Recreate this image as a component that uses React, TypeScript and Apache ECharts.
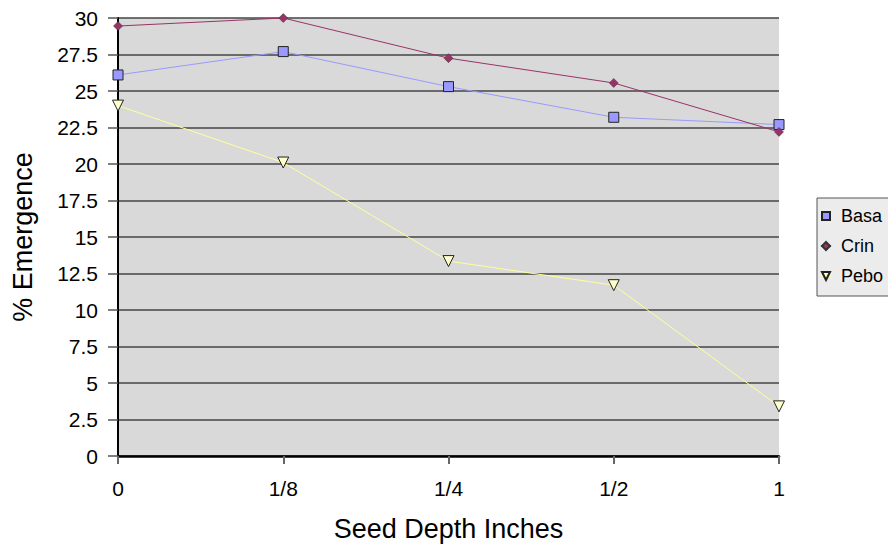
import React, { useEffect, useRef } from "react";
import * as echarts from "echarts";

const categories = ["0", "1/8", "1/4", "1/2", "1"];
const basa = [26.1, 27.7, 25.3, 23.2, 22.7];
const crin = [29.45, 30.0, 27.25, 25.55, 22.2];
const pebo = [24.0, 20.1, 13.35, 11.7, 3.4];
const yTicks = [0, 2.5, 5, 7.5, 10, 12.5, 15, 17.5, 20, 22.5, 25, 27.5, 30];

const FONT = "Liberation Sans, Arial, sans-serif";

export default function App() {
  const ref = useRef<HTMLDivElement>(null);
  useEffect(() => {
    if (!ref.current) return;
    const chart = echarts.init(ref.current, undefined, { renderer: "svg" });
    chart.setOption({
      animation: false,
      backgroundColor: "#ffffff",
      textStyle: { fontFamily: FONT },
      grid: {
        left: 118,
        right: 109,
        top: 18,
        bottom: 92,
        show: true,
        backgroundColor: "#D9D9D9",
        borderWidth: 0,
      },
      legend: {
        orient: "vertical",
        left: 817,
        top: 198,
        itemWidth: 10,
        itemHeight: 10,
        itemGap: 10,
        padding: [8, 20, 10, 3],
        backgroundColor: "#ECECEC",
        borderColor: "#555555",
        borderWidth: 1,
        borderRadius: 0,
        textStyle: { fontFamily: FONT, fontSize: 18, color: "#000", lineHeight: 20, padding: [0, 0, 0, 5] },
        data: ["Basa", "Crin", "Pebo"],
      },
      xAxis: {
        type: "category",
        data: categories,
        boundaryGap: false,
        name: "Seed Depth Inches",
        nameLocation: "middle",
        nameGap: 59,
        nameTextStyle: { fontFamily: FONT, fontSize: 27, color: "#000" },
        axisLine: { lineStyle: { color: "#000", width: 2.5 } },
        axisTick: { show: true, length: 8, lineStyle: { color: "#666", width: 2 } },
        axisLabel: { fontFamily: FONT, fontSize: 21, color: "#000", margin: 22 },
        splitLine: { show: false },
      },
      yAxis: {
        type: "value",
        min: 0,
        max: 30,
        interval: 2.5,
        name: "% Emergence",
        nameLocation: "middle",
        nameGap: 82,
        nameTextStyle: { fontFamily: FONT, fontSize: 27, color: "#000" },
        axisLine: { show: true, lineStyle: { color: "#000", width: 2 } },
        axisTick: { show: true, length: 10, lineStyle: { color: "#555", width: 1.5 } },
        axisLabel: {
          fontFamily: FONT,
          fontSize: 21,
          color: "#000",
          margin: 20,
          formatter: (v: number) => (yTicks.includes(v) ? String(v) : ""),
        },
        splitLine: { show: true, lineStyle: { color: "#444", width: 1.5 } },
      },
      series: [
        {
          name: "Basa",
          type: "line",
          data: basa,
          symbol: "rect",
          symbolSize: 10,
          lineStyle: { color: "#9999FF", width: 1 },
          itemStyle: { color: "#9999FF", borderColor: "#222", borderWidth: 1 },
          z: 3,
        },
        {
          name: "Crin",
          type: "line",
          data: crin,
          symbol: "diamond",
          symbolSize: 9,
          lineStyle: { color: "#993366", width: 1 },
          itemStyle: { color: "#993366", borderColor: "#333", borderWidth: 0.5 },
          z: 4,
        },
        {
          name: "Pebo",
          type: "line",
          data: pebo,
          symbol: "triangle",
          symbolRotate: 180,
          symbolSize: 11,
          lineStyle: { color: "#FFFF99", width: 1 },
          itemStyle: { color: "#FFFFCC", borderColor: "#222", borderWidth: 1 },
          z: 2,
        },
      ],
    });
    return () => chart.dispose();
  }, []);
  return <div ref={ref} style={{ width: 888, height: 548, position: "absolute", left: 0, top: 0 }} />;
}
